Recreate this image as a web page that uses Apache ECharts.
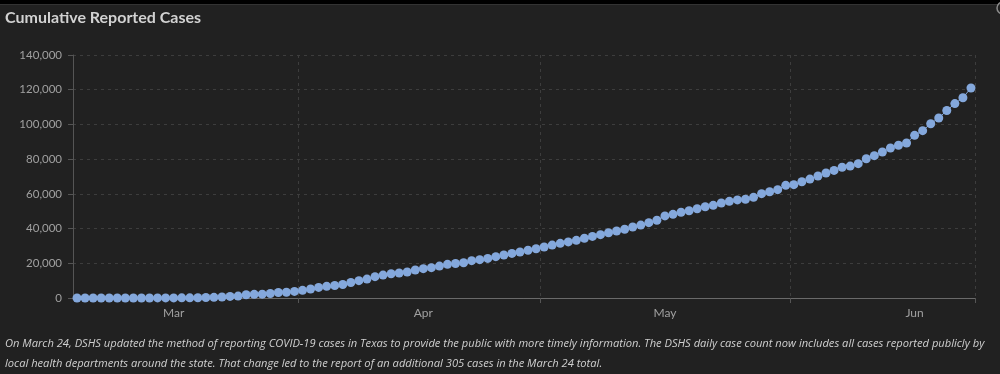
<!DOCTYPE html>
<html>
<head>
<meta charset="utf-8">
<script src="https://cdn.jsdelivr.net/npm/echarts@6/dist/echarts.min.js"></script>
<style>
html,body{margin:0;padding:0;background:#212121;}
#c{width:1000px;height:374px;}
</style>
</head>
<body>
<div id="c"></div>
<script>
const titleText = 'Cumulative Reported Cases';
const noteLines = [
  'On March 24, DSHS updated the method of reporting COVID-19 cases in Texas to provide the public with more timely information. The DSHS daily case count now includes all cases reported publicly by',
  'local health departments around the state. That change led to the report of an additional 305 cases in the March 24 total.'
];
const monthNames = ['Mar', 'Apr', 'May', 'Jun'];
const daysMar = [4,5,6,7,8,9,10,11,12,13,14,15,16,17,18,19,20,21,22,23,24,25,26,27,28,29,30,31];
const daysApr = [1,2,3,4,5,6,7,8,9,10,11,12,13,14,15,16,17,18,19,20,21,22,23,24,25,26,27,28,29,30];
const daysMay = [1,2,3,4,5,6,7,8,9,10,11,12,13,14,15,16,17,18,19,20,21,22,23,24,25,26,27,28,29,30,31];
const daysJun = [1,2,3,4,5,6,7,8,9,10,11,12,13,14,15,16,17,18,19,20,21,22,23];
const yTicks = [0, 20000, 40000, 60000, 80000, 100000, 120000, 140000];
const cases = [
  1,1,2,4,5,8,12,13,21,27,39,57,64,85,110,173,
  260,394,566,900,1100,1900,2100,2200,2600,3200,3300,3800,
  4400,5200,6100,6700,7200,7800,8900,10000,10900,12300,13200,14000,14400,15000,
  16100,16900,17500,18400,19400,19900,20300,21500,22100,22800,23800,24800,25700,26500,27500,28400,
  29400,30500,31500,32300,33200,34400,35500,36500,37600,38600,39600,40900,42000,43400,44800,
  47300,48200,49400,50300,51400,52600,53400,54700,55700,56500,56900,58000,60100,61200,62400,64900,
  65300,67000,68500,70300,72000,73500,75300,76000,77400,80200,82000,84100,86400,88000,89300,
  93700,96400,100400,103700,108000,112000,115400,121000
];

const dayLists = [daysMar, daysApr, daysMay, daysJun];
const categories = [];
dayLists.forEach((list, m) => list.forEach(d => categories.push(monthNames[m] + ' ' + d)));

const chart = echarts.init(document.getElementById('c'), null, {renderer: 'canvas'});
const isFirst = (i, v) => / 1$/.test(v);
const isMid = (i, v) => / 16$/.test(v);

chart.setOption({
  backgroundColor: '#212121',
  animation: false,
  grid: {left: 73, right: 25, top: 55, bottom: 76, containLabel: false},
  xAxis: {
    type: 'category',
    data: categories,
    boundaryGap: true,
    axisLine: {show: true, lineStyle: {color: '#6a6a6a', width: 1}},
    axisTick: {show: true, interval: isFirst, length: 5, lineStyle: {color: '#555'}},
    axisLabel: {
      interval: isMid, color: '#a0a0a0', fontSize: 12, fontFamily: 'Lato, "Noto Sans", sans-serif',
      margin: 9, formatter: v => v.split(' ')[0]
    },
    splitLine: {show: true, interval: isFirst, lineStyle: {color: '#3d3d3d', type: [3, 4], width: 1}}
  },
  yAxis: {
    type: 'value',
    min: yTicks[0], max: yTicks[yTicks.length - 1], interval: yTicks[1] - yTicks[0],
    axisLine: {show: true, lineStyle: {color: '#555', width: 1}},
    axisTick: {show: true, length: 5, lineStyle: {color: '#555'}},
    axisLabel: {
      color: '#a0a0a0', fontSize: 11.5, fontFamily: 'Lato, "Noto Sans", sans-serif', margin: 11,
      formatter: v => v.toLocaleString('en-US')
    },
    splitLine: {show: true, lineStyle: {color: '#3d3d3d', type: [3, 4], width: 1}}
  },
  series: [{
    type: 'line',
    data: cases,
    symbol: 'circle',
    symbolSize: 9,
    showAllSymbol: true,
    itemStyle: {color: '#84a8dc'},
    lineStyle: {color: '#84a8dc', width: 1}
  }],
  graphic: [
    {type: 'rect', left: 0, top: 0, shape: {width: 1000, height: 4}, style: {fill: '#000'}},
    {type: 'rect', left: 0, top: 4, shape: {width: 1000, height: 1}, style: {fill: '#333'}},
    {type: 'circle', shape: {cx: 1003, cy: 8, r: 6}, style: {fill: 'none', stroke: '#8a8a8a', lineWidth: 1.5}},
    {type: 'text', left: 5, top: 10, style: {text: titleText, fill: '#d2d2d2', font: 'bold 16px Lato, "Noto Sans", sans-serif'}},
    {type: 'text', left: 5, top: 338, style: {text: noteLines[0], fill: '#cfcfcf', font: 'italic 11.15px "Open Sans", "DejaVu Sans", sans-serif'}},
    {type: 'text', left: 5, top: 358, style: {text: noteLines[1], fill: '#cfcfcf', font: 'italic 11.15px "Open Sans", "DejaVu Sans", sans-serif'}}
  ]
});
</script>
</body>
</html>
